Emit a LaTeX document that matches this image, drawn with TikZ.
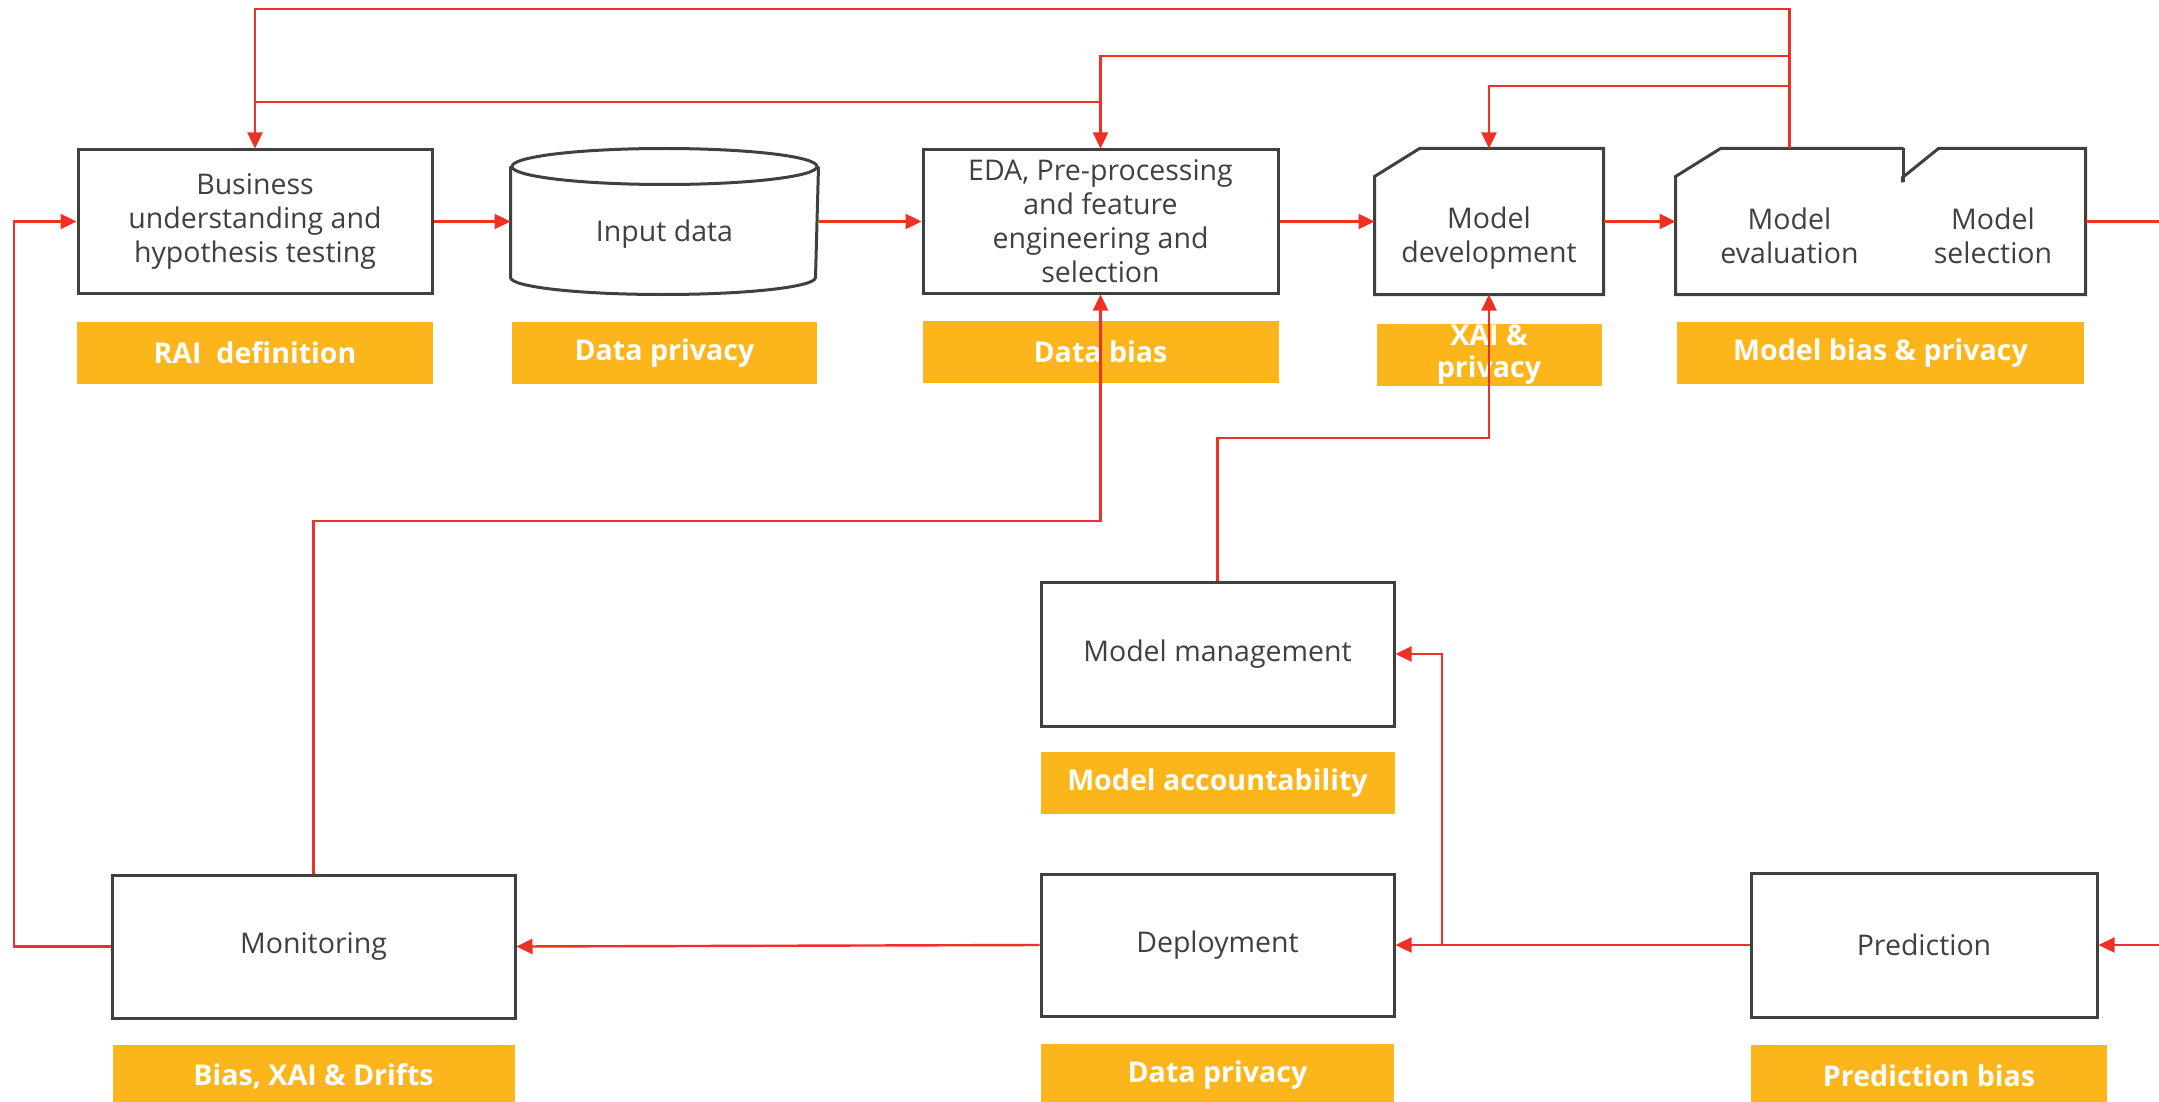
\documentclass[tikz,border=0pt]{standalone}
\usepackage{fontspec}
\setmainfont{Open Sans}
\usepackage{tikz}
\usetikzlibrary{positioning}
\usetikzlibrary{arrows.meta}

\definecolor{flowred}{HTML}{EE3124}
\definecolor{raiyellow}{HTML}{FCB61C}
\definecolor{boxgray}{HTML}{404040}

\tikzset{
  box/.style={draw=boxgray, line width=1.5pt, text=boxgray, align=center, inner sep=0pt, font=\fontsize{14.25}{17}\selectfont},
  shell/.style={box, draw=none},
  tag/.style={fill=raiyellow, text=white, align=center, inner sep=0pt, minimum height=31pt, font=\bfseries\fontsize{14.3}{16}\selectfont},
  flow/.style={draw=flowred, line width=1.2pt, -{Triangle[length=8pt,width=7.5pt]}},
  wire/.style={draw=flowred, line width=1.2pt},
  outline/.style={draw=boxgray, line width=1.5pt, line join=miter}
}

\begin{document}
\begin{tikzpicture}[x=0.5pt, y=-0.5pt]
        \useasboundingbox (0,0) rectangle (2159,1102);

        % process steps
        \node[box, minimum width=177pt, minimum height=71.5pt] (BU) at (255,221.5) {Business\\understanding and\\hypothesis testing};
        \node[shell, minimum width=152.5pt, minimum height=71.5pt] (IN) at (664.5,221.5) {};
        \node[box, minimum width=177.5pt, minimum height=71.5pt] (EDA) at (1100.5,221.5) {EDA, Pre-processing\\and feature\\engineering and\\selection};
        \node[shell, minimum width=113pt, minimum height=71.5pt] (MD) at (1489,221.5) {};
        \node[shell, minimum width=112.5pt, minimum height=71.5pt] (ME) at (1789.5,221.5) {};
        \node[shell, minimum width=91pt, minimum height=71.5pt] (MS) at (1993,221.5) {};
        \node[box, minimum width=176.5pt, minimum height=72pt] (MM) at (1217.5,654) {Model management};
        \node[box, minimum width=201.5pt, minimum height=71.5pt] (MO) at (313.5,946.5) {Monitoring};
        \node[box, minimum width=176.5pt, minimum height=71pt] (DE) at (1217.5,945) {Deployment};
        \node[box, minimum width=173pt, minimum height=72pt] (PR) at (1924,945) {Prediction};

        % texts of the drawn shapes
        \node[shell] (INt) at ([yshift=-6.5pt]IN.center) {Input data};
        \node[shell] (MDt) at ([yshift=-8.5pt]MD.center) {Model\\development};
        \node[shell] (MEt) at ([yshift=-7pt]ME.center) {Model\\evaluation};
        \node[shell] (MSt) at ([yshift=-7pt]MS.center) {Model\\selection};

        % cylinder
        \draw[outline] ([yshift=-9pt]IN.north) ellipse [x radius=76.25pt, y radius=9pt];
        \draw[outline] ([yshift=-9pt]IN.north west) -- ([yshift=8.5pt]IN.south west)
            arc [start angle=180, end angle=360, x radius=76.25pt, y radius=8.5pt]
            -- ([yshift=-9pt]IN.north east);
        % cut corners
        \draw[outline] ([yshift=-14pt]MD.north west) -- ([xshift=22.5pt]MD.north west) -- (MD.north east)
            -- (MD.south east) -- (MD.south west) -- cycle;
        \draw[outline] (ME.north east) -- ([yshift=-17pt]ME.north east);
        \draw[outline] ([xshift=1pt,yshift=-17pt]MS.north west) -- ([xshift=1pt,yshift=-14.5pt]MS.north west)
            -- ([xshift=19pt]MS.north west) -- (MS.north east) -- (MS.south east) -- (ME.south west)
            -- ([yshift=-14pt]ME.north west) -- ([xshift=22.5pt]ME.north west) -- (ME.north east);

        % RAI tags
        \node[tag, minimum width=178pt, below=13.5pt of BU] (tBU) {RAI\ \ definition};
        \node[tag, minimum width=152.5pt, below=13.5pt of IN] (tIN) {Data privacy};
        \node[tag, minimum width=178pt, below=13pt of EDA] (tEDA) {Data bias};
        \node[tag, minimum width=112.5pt, below=14.5pt of MD] (tMD) {XAI \&\\privacy};
        \node[tag, minimum width=203.5pt] (tME) at (1880.5,353) {Model bias \& privacy};
        \node[tag, minimum width=177pt, below=12pt of MM] (tMM) {Model accountability};
        \node[tag, minimum width=201pt, below=12.5pt of MO] (tMO) {Bias, XAI \& Drifts};
        \node[tag, minimum width=176.5pt, below=13pt of DE] (tDE) {Data privacy};
        \node[tag, minimum width=178pt, below=13pt of PR, xshift=2.5pt] (tPR) {Prediction bias};

        % rails
        \coordinate (R1) at (0,9);
        \coordinate (R2) at (0,56);
        \coordinate (R3) at (0,86);
        \coordinate (R4) at (0,102);
        \coordinate (R5) at (0,438);
        \coordinate (R6) at (0,521);
        \coordinate (LX) at (14,0);
        \coordinate (BX) at (1442,0);
        \coordinate (RX) at (2200,0);

        \draw[flow] (BU.east) -- (IN.west);
        \draw[flow] (IN.east) -- (EDA.west);
        \draw[flow] (EDA.east) -- (MD.west);
        \draw[flow] (MD.east) -- (ME.west);
        \draw[flow] (MS.east) -- (RX |- MS.east) |- (PR.east);
        \draw[flow] (PR.west) -- (DE.east);
        \draw[flow] (BX |- PR.west) |- (MM.east);
        \draw[flow] (DE.west) -- (MO.east);
        \draw[flow] (MO.west) -- (LX |- MO.west) |- (BU.west);
        %feedback
        \draw[flow] (ME.north) |- (BU.north |- R1) -- (BU.north);
        \draw[flow] (ME.north |- R2) -| (EDA.north);
        \draw[flow] (ME.north |- R3) -| (MD.north);
        \draw[wire] (BU.north |- R4) -- (EDA.north |- R4);
        \draw[flow] (MO.north) |- (EDA.south |- R6) -- (EDA.south);
        \draw[flow] (MM.north) |- (MD.south |- R5) -- (MD.south);
\end{tikzpicture}
\end{document}
